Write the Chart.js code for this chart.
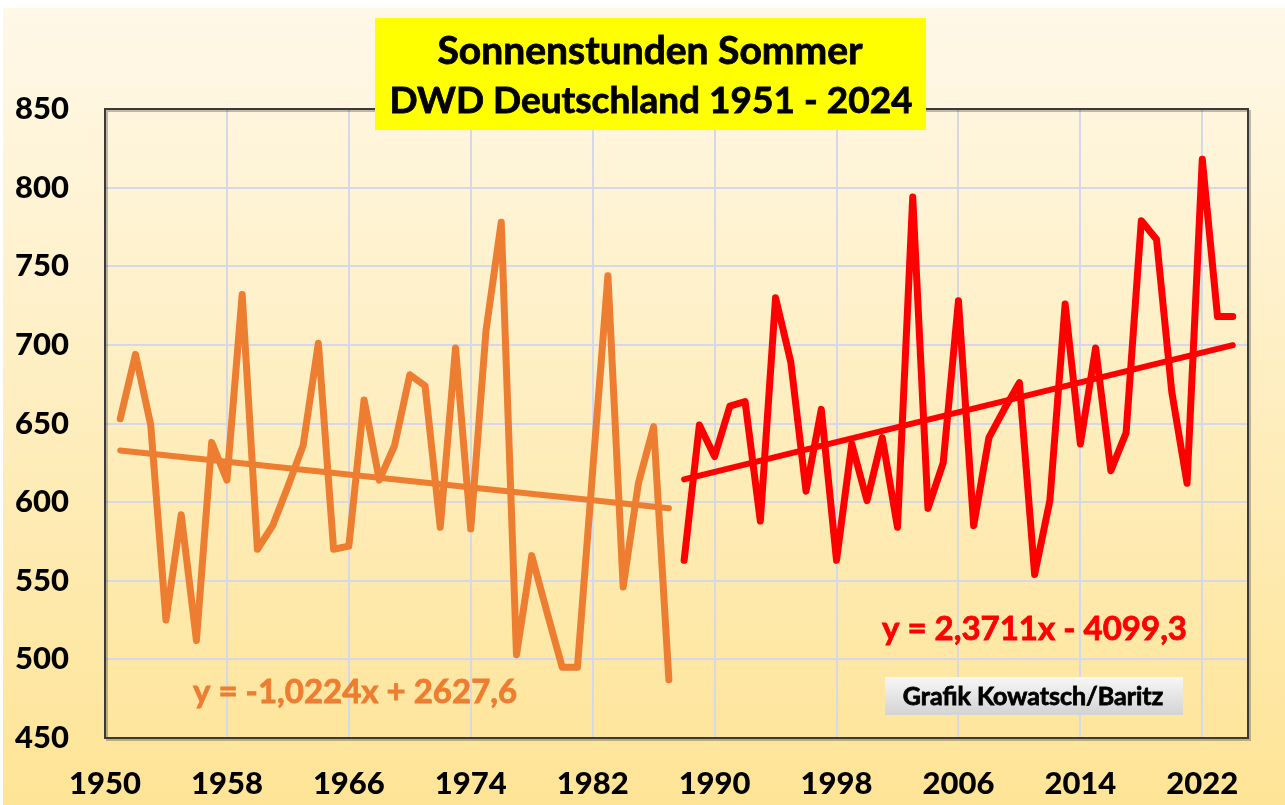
<!DOCTYPE html>
<html><head><meta charset="utf-8">
<script src="https://cdn.jsdelivr.net/npm/chart.js"></script>
<style>html,body{margin:0;padding:0;background:#fff;}#wrap{width:1285px;height:805px;position:relative}</style>
</head><body><div id="wrap"><canvas id="c" width="1285" height="805"></canvas></div>
<script>
const titleLines = ["Sonnenstunden Sommer", "DWD Deutschland 1951 - 2024"];
const yearsA = [1951,1952,1953,1954,1955,1956,1957,1958,1959,1960,1961,1962,1963,1964,1965,1966,1967,1968,1969,1970,1971,1972,1973,1974,1975,1976,1977,1978,1979,1980,1981,1982,1983,1984,1985,1986,1987];
const valuesA = [653,694,649,525,592,512,638,614,732,570,585,610,636,701,570,572,665,614,636,681,674,584,698,583,709,778,503,566,530,495,495,620,744,546,612,648,487];
const yearsB = [1988,1989,1990,1991,1992,1993,1994,1995,1996,1997,1998,1999,2000,2001,2002,2003,2004,2005,2006,2007,2008,2009,2010,2011,2012,2013,2014,2015,2016,2017,2018,2019,2020,2021,2022,2023,2024];
const valuesB = [563,649,629,661,664,588,730,689,607,659,563,637,601,641,584,794,596,625,728,585,641,659,676,554,601,726,637,698,620,644,779,767,670,612,818,718,718];
const trendA = {slope: -1.0224, intercept: 2627.6, label: "y = -1,0224x + 2627,6"};
const trendB = {slope: 2.3711, intercept: -4099.3, label: "y = 2,3711x - 4099,3"};
const xTicks = [1950,1958,1966,1974,1982,1990,1998,2006,2014,2022];
const yTicks = [450,500,550,600,650,700,750,800,850];
const creditText = "Grafik Kowatsch/Baritz";

const FONT = "Lato, 'Open Sans', sans-serif";
const pts = (xs, ys) => xs.map((x, i) => ({x, y: ys[i]}));
const trendPts = (xs, t) => [xs[0], xs[xs.length-1]].map(x => ({x, y: t.slope * x + t.intercept}));

function boldText(ctx, txt, x, y) {
  ctx.fillText(txt, x, y);
  ctx.lineWidth = 0.8;
  ctx.strokeStyle = ctx.fillStyle;
  ctx.strokeText(txt, x, y);
}

const bgPlugin = {
  id: 'bg',
  beforeDraw(chart) {
    const ctx = chart.ctx;
    ctx.save();
    const g = ctx.createLinearGradient(0, 8, 0, 805);
    g.addColorStop(0, '#FEF8E8');
    g.addColorStop(1, '#FEE496');
    ctx.fillStyle = g;
    ctx.fillRect(3, 8, 1282, 797);
    ctx.restore();
  },
  beforeDatasetsDraw(chart) {
    const {ctx, chartArea: a} = chart;
    ctx.save();
    ctx.strokeStyle = 'rgba(0,0,0,0.25)';
    ctx.lineWidth = 2;
    ctx.strokeRect(a.left + 2, a.top + 2, a.right - a.left, a.bottom - a.top);
    ctx.strokeStyle = '#3a3a3a';
    ctx.lineWidth = 2;
    ctx.strokeRect(a.left, a.top, a.right - a.left, a.bottom - a.top);
    ctx.restore();
  },
  afterDraw(chart) {
    const ctx = chart.ctx;
    ctx.save();
    ctx.fillStyle = '#FFFF00';
    ctx.fillRect(375, 18, 551, 112);
    ctx.fillStyle = '#000';
    ctx.textAlign = 'center';
    ctx.textBaseline = 'middle';
    ctx.font = "bold 39px " + FONT;
    boldText(ctx, titleLines[0], 650, 51);
    ctx.font = "bold 37px " + FONT;
    boldText(ctx, titleLines[1], 651, 101);
    ctx.textAlign = 'left';
    ctx.font = "bold 33px " + FONT;
    ctx.fillStyle = '#ED7D31';
    boldText(ctx, trendA.label, 193, 692);
    ctx.fillStyle = '#FF0000';
    boldText(ctx, trendB.label, 882, 629);
    const g = ctx.createLinearGradient(0, 678, 0, 714);
    g.addColorStop(0, '#F6F6F6');
    g.addColorStop(1, '#D4D4D4');
    ctx.fillStyle = g;
    ctx.fillRect(885, 677, 298, 38);
    ctx.fillStyle = '#000';
    ctx.font = "bold 25px " + FONT;
    ctx.textAlign = 'center';
    boldText(ctx, creditText, 1033, 697);
    ctx.restore();
  }
};

new Chart(document.getElementById('c'), {
  type: 'scatter',
  data: {
    datasets: [
      {data: pts(yearsA, valuesA), showLine: true, borderColor: '#ED7D31', borderWidth: 7, pointRadius: 0, tension: 0, borderJoinStyle: 'round', borderCapStyle: 'round'},
      {data: pts(yearsB, valuesB), showLine: true, borderColor: '#FF0000', borderWidth: 7, pointRadius: 0, tension: 0, borderJoinStyle: 'round', borderCapStyle: 'round'},
      {data: trendPts(yearsA, trendA), showLine: true, borderColor: '#ED7D31', borderWidth: 6, pointRadius: 0, borderCapStyle: 'round'},
      {data: trendPts(yearsB, trendB), showLine: true, borderColor: '#FF0000', borderWidth: 6, pointRadius: 0, borderCapStyle: 'round'}
    ]
  },
  options: {
    responsive: false,
    animation: false,
    events: [],
    layout: {padding: {left: 0, right: 37, top: 109, bottom: 0}},
    plugins: {legend: {display: false}, tooltip: {enabled: false}, title: {display: false}},
    scales: {
      x: {
        type: 'linear', min: 1950, max: 2025,
        afterBuildTicks: s => { s.ticks = xTicks.map(v => ({value: v})); },
        afterFit: s => { s.height = 805 - 738; },
        grid: {color: '#D5D8E6', lineWidth: 2, drawTicks: false},
        border: {display: false},
        ticks: {color: '#000', font: {family: FONT, size: 31, weight: '900'}, padding: 27, maxRotation: 0, autoSkip: false, callback: v => String(v)}
      },
      y: {
        min: 450, max: 850,
        afterBuildTicks: s => { s.ticks = yTicks.map(v => ({value: v})); },
        afterFit: s => { s.width = 105; },
        grid: {color: '#D5D8E6', lineWidth: 2, drawTicks: false},
        border: {display: false},
        ticks: {color: '#000', font: {family: FONT, size: 31, weight: '900'}, padding: 36, callback: v => String(v)}
      }
    }
  },
  plugins: [bgPlugin]
});
</script></body></html>
